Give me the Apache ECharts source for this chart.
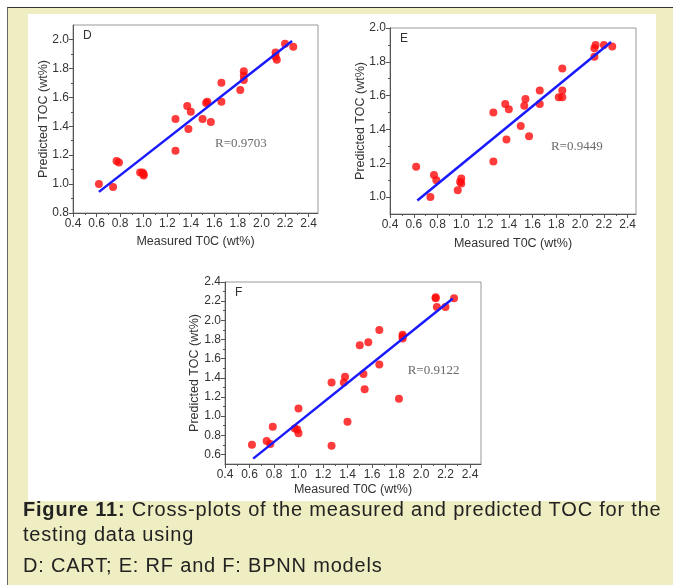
<!DOCTYPE html>
<html><head><meta charset="utf-8">
<script src="https://cdn.jsdelivr.net/npm/echarts@6/dist/echarts.min.js"></script>
<style>
html,body{margin:0;padding:0;background:#fff;}
#wrap{position:relative;width:673px;height:585px;overflow:hidden;background:#fff;}
#panel{position:absolute;left:7px;top:7px;width:680px;height:600px;background:#efedc2;border-left:1.5px solid #666;border-top:1.5px solid #333;}
#img{position:absolute;left:28px;top:14px;width:628px;height:487px;background:#fff;}
#chart{position:absolute;left:0;top:0;width:673px;height:585px;}
#cap{position:absolute;left:23px;top:497px;width:660px;font-family:'Liberation Sans',Arial,sans-serif;font-size:20px;color:#222;letter-spacing:0.8px;line-height:25px;white-space:nowrap;}
#cap p{margin:0;}
#cap p.l3{margin-top:6px;}
</style>
</head><body>
<div id="wrap">
  <div id="panel"></div>
  <div id="img"></div>
  <div id="chart"></div>
  <div id="cap"><p><b>Figure 11:</b> Cross-plots of the measured and predicted TOC for the<br>testing data using</p><p class="l3">D: CART; E: RF and F: BPNN models</p></div>
</div>
<script>
// ---- data ----
const measured  = [0.62,0.74,0.77,0.79,0.97,0.99,1.00,1.00,1.27,1.27,1.37,1.38,1.40,1.50,1.53,1.54,1.57,1.66,1.66,1.82,1.85,1.85,1.85,2.12,2.12,2.13,2.20,2.27];
const predCART  = [1.00,0.98,1.16,1.15,1.08,1.08,1.06,1.07,1.45,1.23,1.54,1.38,1.50,1.45,1.56,1.57,1.43,1.70,1.57,1.65,1.78,1.75,1.72,1.91,1.88,1.86,1.97,1.95];
const predRF    = [1.18,1.00,1.13,1.10,1.04,1.09,1.11,1.08,1.50,1.21,1.55,1.34,1.52,1.42,1.54,1.58,1.36,1.63,1.55,1.59,1.76,1.63,1.59,1.88,1.83,1.90,1.90,1.89];
const predBPNN  = [0.70,0.74,0.71,0.89,0.87,0.86,1.08,0.82,1.35,0.69,1.35,1.41,0.94,1.74,1.44,1.28,1.77,1.90,1.54,1.18,1.85,1.83,1.81,2.23,2.24,2.14,2.14,2.23];
const fitCART = [[0.62,0.946],[2.26,1.99]];
const fitRF   = [[0.63,0.98],[2.26,1.917]];
const fitBPNN = [[0.63,0.556],[2.26,2.227]];
const panelNames = ['D','E','F'];
const rLabels = ['R=0.9703','R=0.9449','R=0.9122'];
const rPos = [[1.606,1.277],[1.754,1.298],[1.891,1.476]];
const xTicks = [0.4,0.6,0.8,1.0,1.2,1.4,1.6,1.8,2.0,2.2,2.4];
const xMinor = [0.5,0.7,0.9,1.1,1.3,1.5,1.7,1.9,2.1,2.3];
const yTicksD = [0.8,1.0,1.2,1.4,1.6,1.8,2.0];
const yMinorD = [0.9,1.1,1.3,1.5,1.7,1.9];
const yTicksE = [1.0,1.2,1.4,1.6,1.8,2.0];
const yMinorE = [1.1,1.3,1.5,1.7,1.9];
const yTicksF = [0.6,0.8,1.0,1.2,1.4,1.6,1.8,2.0,2.2,2.4];
const yMinorF = [0.7,0.9,1.1,1.3,1.5,1.7,1.9,2.1,2.3];
const xName = 'Measured T0C (wt%)';
const yName = 'Predicted TOC (wt%)';

// ---- layout ----
const SANS = "'Liberation Sans', Arial, sans-serif";
const grids = [
  {left:73, top:25, width:245, height:188},
  {left:390, top:28, width:246, height:186},
  {left:225, top:282, width:256, height:182}
];
const xRange = [[0.4,2.48],[0.4,2.47],[0.4,2.49]];
const yRange = [[0.8,2.1],[0.9,2.0],[0.5,2.4]];
const yTicks = [yTicksD, yTicksE, yTicksF];
const yMinors = [yMinorD, yMinorE, yMinorF];
const xGaps = [22, 23, 19];
const yGaps = [23, 23, 24];
const preds = [predCART, predRF, predBPNN];
const fits = [fitCART, fitRF, fitBPNN];

function axisPair(dim, gi, range, majors, minors, name, gap) {
  const pos = dim === 'x' ? 'bottom' : 'left';
  const main = {
    type:'value', gridIndex:gi, position:pos, min:range[0], max:range[1],
    axisLine:{show:true, onZero:false, lineStyle:{color:'#555', width:1}},
    axisTick:{show:true, customValues:majors, length:4, inside:false, lineStyle:{color:'#555', width:1}},
    axisLabel:{show:true, customValues:majors, formatter:v => Number(v).toFixed(1),
      margin: dim === 'x' ? 5 : 4,
      fontSize:12, color:'#333', fontFamily:SANS},
    splitLine:{show:false}, minorTick:{show:false},
    name:name, nameLocation:'middle', nameGap:gap, nameMoveOverlap:false,
    nameTextStyle:{fontSize:12.5, color:'#333', fontFamily:SANS}
  };
  const minor = {
    type:'value', gridIndex:gi, position:pos, min:range[0], max:range[1],
    axisLine:{show:false},
    axisTick:{show:true, customValues:minors, length:2, inside:false, lineStyle:{color:'#555', width:1}},
    axisLabel:{show:false}, splitLine:{show:false}
  };
  return [main, minor];
}

const xAxes = [], yAxes = [], series = [], graphics = [];
for (let i = 0; i < 3; i++) {
  xAxes.push(...axisPair('x', i, xRange[i], xTicks, xMinor, xName, xGaps[i]));
  yAxes.push(...axisPair('y', i, yRange[i], yTicks[i], yMinors[i], yName, yGaps[i]));
  series.push({
    type:'scatter', xAxisIndex:2*i, yAxisIndex:2*i, symbol:'circle', symbolSize:8,
    itemStyle:{color:'#ff0a0a'}, z:3,
    data: measured.map((m, k) => [m, preds[i][k]])
  });
  series.push({
    type:'line', xAxisIndex:2*i, yAxisIndex:2*i, showSymbol:false, symbol:'none',
    lineStyle:{color:'#1a1aff', width:2.5}, z:4, data: fits[i]
  });
  series.push({
    type:'scatter', xAxisIndex:2*i, yAxisIndex:2*i, symbolSize:0, silent:true, z:5,
    label:{show:true, position:'right', distance:0, formatter:rLabels[i],
      fontFamily:"'Liberation Serif', 'Times New Roman', serif", fontSize:13, color:'#444'},
    data:[rPos[i]]
  });
  graphics.push({
    type:'text', left:grids[i].left + 10, top:grids[i].top + 5,
    style:{text:panelNames[i], font:'12px ' + SANS, fill:'#333'}
  });
}

const chart = echarts.init(document.getElementById('chart'), null, {renderer:'canvas', width:673, height:585});
chart.setOption({
  backgroundColor:'transparent',
  animation:false,
  grid: grids.map(g => Object.assign({show:true, borderColor:'#999', borderWidth:1,
    backgroundColor:'transparent', containLabel:false, outerBoundsMode:'none'}, g)),
  xAxis:xAxes,
  yAxis:yAxes,
  series:series,
  graphic:graphics
});
</script>
</body></html>
